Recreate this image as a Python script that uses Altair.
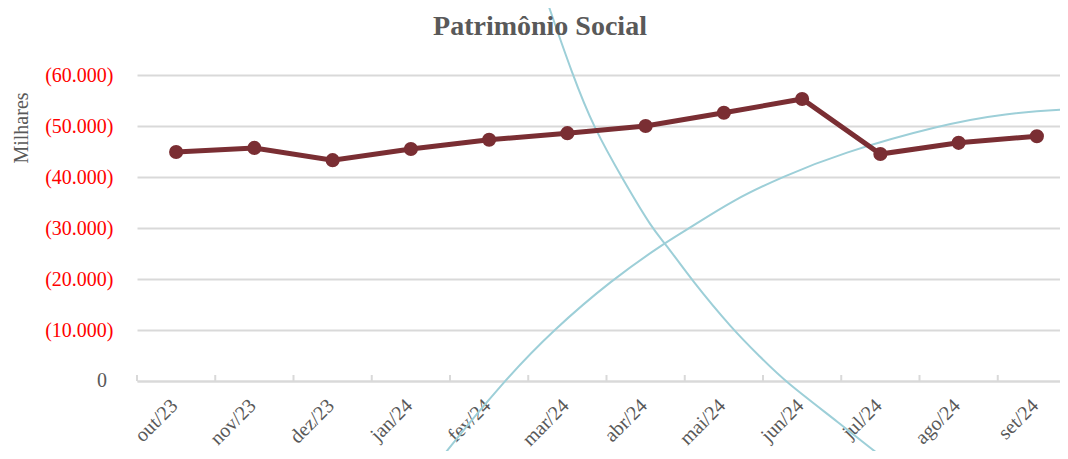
import altair as alt
import pandas as pd

months = ["out/23", "nov/23", "dez/23", "jan/24", "fev/24", "mar/24",
          "abr/24", "mai/24", "jun/24", "jul/24", "ago/24", "set/24"]
values = [44900, 45700, 43300, 45500, 47300, 48600,
          50000, 52600, 55300, 44500, 46700, 48000]

# decorative background arcs (month index, value units)
arc1_x = [4.649, 4.734, 5.074, 5.330, 5.713, 6.096, 6.246, 6.587, 7.118, 7.460, 7.779, 8.482, 9.035, 9.312]
arc1_y = [78600, 74700, 59700, 49900, 39400, 29600, 27100, 19800, 10000, 4800, -100, -8300, -15200, -17800]
arc2_x = [3.180, 3.371, 4.180, 4.819, 5.565, 6.246, 6.523, 7.118, 7.757, 8.482, 9.759, 10.611, 11.395, 11.803]
arc2_y = [-19400, -15300, -100, 10000, 19800, 27100, 29600, 35500, 40100, 44600, 50200, 52500, 53300, 53500]

y_ticks = [0, 10000, 20000, 30000, 40000, 50000, 60000]
title_text = "Patrimônio Social"
y_title = "Milhares"

df = pd.DataFrame({"i": list(range(len(months))), "month": months, "value": values})
arcs = pd.concat([
    pd.DataFrame({"i": arc1_x, "value": arc1_y, "arc": "a", "k": range(len(arc1_x))}),
    pd.DataFrame({"i": arc2_x, "value": arc2_y, "arc": "b", "k": range(len(arc2_x))}),
])

SERIF = "Liberation Serif"
GRAY = "#595959"
GRID = "#d9d9d9"
LINE = "#7a2e33"
PLOT_W = 923
RANGE_W = 939
PLOT_H = 306

yscale = alt.Scale(domain=[0, 60000], nice=False, zero=False)
xscale = alt.Scale(domain=[-0.5, 11.5], range=[0, RANGE_W], nice=False, zero=False)
month_js = "[" + ",".join("'" + m + "'" for m in months) + "]"

x_axis = alt.Axis(values=list(range(len(months))), title=None, labelAngle=-45,
                  labelExpr=month_js + "[datum.value]",
                  labelFont=SERIF, labelFontSize=20, labelFontWeight="normal",
                  labelColor=GRAY, labelPadding=14, labelOffset=-9, ticks=False,
                  domainColor=GRID, domainWidth=2, grid=False)
y_axis = alt.Axis(values=y_ticks, title=None,
                  labelFont=SERIF, labelFontSize=20, labelFontWeight="normal", labelColor="#ff0000",
                  labelExpr="datum.value == 0 ? '' : '(' + format(datum.value / 1000, '.0f') + '.000)'",
                  labelPadding=24, ticks=False, domain=False,
                  gridColor=GRID, gridWidth=2)

X = alt.X("i:Q", scale=xscale, axis=x_axis)
Y = alt.Y("value:Q", scale=yscale, axis=y_axis)

curves = alt.Chart(arcs).mark_line(
    color="#9dcfd8", strokeWidth=2, interpolate="basis"
).encode(x=X, y=Y, detail="arc:N", order="k:Q")

ticks = alt.Chart(df).transform_calculate(i="datum.i - 0.5").mark_rule(
    color=GRID, strokeWidth=2
).encode(
    x=X,
    y=alt.value(PLOT_H - 6),
    y2=alt.value(PLOT_H),
)

line = alt.Chart(df).mark_line(color=LINE, strokeWidth=5).encode(x=X, y=Y)

points = alt.Chart(df).mark_point(filled=True, color=LINE, size=200, opacity=1).encode(x=X, y=Y)

zero_lbl = alt.Chart(pd.DataFrame({"value": [0], "t": ["0"]})).mark_text(
    font=SERIF, fontSize=20, color=GRAY, align="right", baseline="middle"
).encode(x=alt.value(-30), y=Y, text="t:N")

title = alt.Chart(pd.DataFrame({"t": [title_text]})).mark_text(
    font=SERIF, fontSize=28, fontWeight="bold", color=GRAY, align="center", baseline="alphabetic"
).encode(x=alt.value(403), y=alt.value(-40), text="t:N")

ytitle = alt.Chart(pd.DataFrame({"t": [y_title]})).mark_text(
    font=SERIF, fontSize=20, color=GRAY, align="center", baseline="middle", angle=270
).encode(x=alt.value(-115), y=alt.value(53), text="t:N")

chart = alt.layer(curves, ticks, line, points, zero_lbl, title, ytitle).properties(
    width=PLOT_W,
    height=PLOT_H,
    padding={"left": 129, "top": 67, "right": 0, "bottom": 70},
    autosize=alt.AutoSizeParams(type="none"),
    background="white",
).configure_view(strokeWidth=0)

chart.save("out.html", embed_options={"renderer": "svg", "actions": False})
